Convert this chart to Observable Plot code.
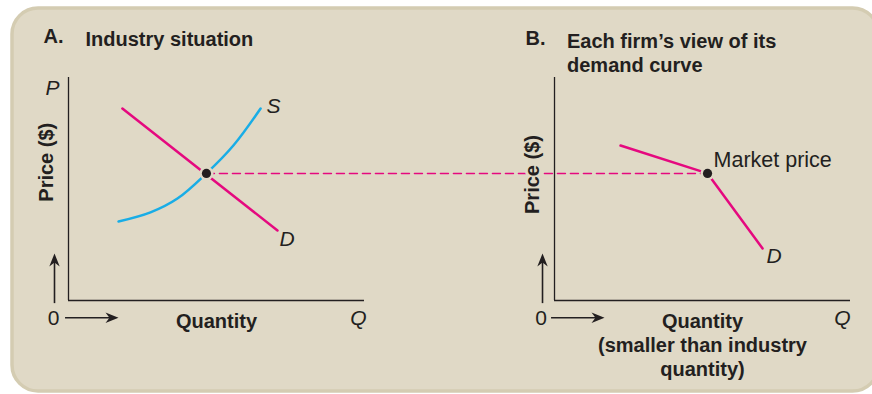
<!DOCTYPE html>
<html><head><meta charset="utf-8">
<script src="https://cdn.jsdelivr.net/npm/d3@7"></script>
<script src="https://cdn.jsdelivr.net/npm/@observablehq/plot@0.6"></script>
<style>
html,body{margin:0;padding:0;background:#fff;}
#chart svg{display:block;}
</style></head><body><div id="chart"></div>
<script>
// ---------------- data (chart units: quantity, price) ----------------
const industryDemandQ = [1.82, 7.06];
const industryDemandP = [8.61, 3.14];
const industrySupplyQ = [1.69, 2.77, 3.68, 4.66, 5.57, 6.49];
const industrySupplyP = [3.54, 3.95, 4.57, 5.70, 6.95, 8.61];
const equilibriumQ = 4.66;
const marketPrice = 5.70;
const firmDemandQ = [2.23, 5.17, 7.03];
const firmDemandP = [6.95, 5.70, 2.33];
const panelIds = ["A.", "B."];
const panelTitles = ["Industry situation", "Each firm\u2019s view of its\ndemand curve"];
const quantityLabels = ["Quantity", "Quantity\n(smaller than industry\nquantity)"];
const priceLabel = "Price ($)";
const priceAxisEnd = "P";
const quantityAxisEnd = "Q";
const originLabel = "0";
const supplyLabel = "S";
const demandLabel = "D";
const marketLabel = "Market price";

// ---------------- layout / style ----------------
const W = 872, H = 394;
const Q_MAX = 10, P_MAX = 10;
const B_OFFSET = 16.42;           // panel B origin along the shared x scale
const INK = "#231f20", PINK = "#e5097f", BLUE = "#19ade6";
const BG = "#e0d9c6", EDGE = "#d4ccb2";
const FONT = "'Liberation Sans', Arial, Helvetica, sans-serif";

const panels = [
  {origin: 0,        idDx: -25, titleDx: 17,   titleDy: -49, priceDx: -22.3, priceY: 6.2,  zeroDx: -15,   arrowDx: -14, qDx: 2},
  {origin: B_OFFSET, idDx: -29, titleDx: 12.5, titleDy: -47, priceDx: -21.7, priceY: 5.65, zeroDx: -13.5, arrowDx: -12, qDx: 0}
];

// filled barbed arrowhead, tip at the anchor point, pointing up
const arrowHead = {
  draw(ctx, size) {
    const r = Math.sqrt(size / Math.PI);
    ctx.moveTo(0, 0);
    ctx.lineTo(0.4 * r, r);
    ctx.lineTo(0, 0.7 * r);
    ctx.lineTo(-0.4 * r, r);
    ctx.closePath();
  }
};

const supply = industrySupplyQ.map((q, i) => ({q, p: industrySupplyP[i]}));
const demand = industryDemandQ.map((q, i) => ({q, p: industryDemandP[i]}));
const firm = firmDemandQ.map((q, i) => ({q: B_OFFSET + q, p: firmDemandP[i]}));
const kink = firm[1];
const eqPoints = [{q: equilibriumQ, p: marketPrice}, {q: kink.q, p: kink.p}];

const marks = [
  Plot.frame({fill: BG, stroke: EDGE, strokeWidth: 3.5, rx: 26, ry: 26,
              insetLeft: -56.5, insetTop: -69.5, insetRight: -28, insetBottom: -90.5})
];

// curves first (text drawn over them later)
marks.push(Plot.line(supply, {x: "q", y: "p", curve: "catmull-rom", stroke: BLUE, strokeWidth: 2.5}));
marks.push(Plot.line(demand, {x: "q", y: "p", stroke: PINK, strokeWidth: 2.5}));
marks.push(Plot.line(firm, {x: "q", y: "p", stroke: PINK, strokeWidth: 2.5, strokeLinejoin: "miter"}));
marks.push(Plot.line(eqPoints, {x: "q", y: "p", stroke: PINK, strokeWidth: 1.5, strokeDasharray: "8,5"}));
// equilibrium dots with background halo
marks.push(Plot.dot(eqPoints, {x: "q", y: "p", r: 7, fill: BG, stroke: "none"}));
marks.push(Plot.dot(eqPoints, {x: "q", y: "p", r: 4.6, fill: INK, stroke: "none"}));

panels.forEach((pl, i) => {
  const o = [{x: pl.origin}];
  // axes
  marks.push(Plot.ruleX(o, {x: "x", y1: 0, y2: P_MAX, stroke: INK, strokeWidth: 1.3}));
  marks.push(Plot.ruleY(o, {y: 0, x1: "x", x2: d => d.x + Q_MAX, stroke: INK, strokeWidth: 1.3}));
  // direction arrows
  marks.push(Plot.ruleX(o, {x: "x", y1: -0.14, y2: 1.75, dx: pl.arrowDx, stroke: INK, strokeWidth: 1.6}));
  marks.push(Plot.dot(o, {x: "x", y: 2.11, dx: pl.arrowDx, r: 13, symbol: arrowHead, fill: INK, stroke: "none"}));
  marks.push(Plot.ruleY(o, {y: 0, x1: d => d.x - 0.1, x2: d => d.x + 1.45, dy: 17.3, stroke: INK, strokeWidth: 1.6}));
  marks.push(Plot.dot(o, {x: d => d.x + 1.69, y: 0, dy: 17.3, r: 13, rotate: 90, symbol: arrowHead, fill: INK, stroke: "none"}));
  // panel id + title (cap tops aligned)
  marks.push(Plot.text([panelIds[i]], {x: pl.origin, y: P_MAX, text: d => d, dx: pl.idDx, dy: pl.titleDy,
    textAnchor: "start", lineAnchor: "top", fontWeight: "bold", fontSize: 20, fill: INK}));
  marks.push(Plot.text([panelTitles[i]], {x: pl.origin, y: P_MAX, text: d => d, dx: pl.titleDx, dy: pl.titleDy,
    textAnchor: "start", lineAnchor: "top", lineHeight: 1.2, fontWeight: "bold", fontSize: 20, fill: INK}));
  // price label (background halo hides the dashed line behind it)
  marks.push(Plot.text([priceLabel], {x: pl.origin, y: pl.priceY, text: d => d, dx: pl.priceDx, rotate: -90,
    textAnchor: "middle", lineAnchor: "middle", fontWeight: "bold", fontSize: 20, fill: INK,
    stroke: BG, strokeWidth: 6, paintOrder: "stroke"}));
  // zero label
  marks.push(Plot.text([originLabel], {x: pl.origin, y: 0, text: d => d, dx: pl.zeroDx, dy: 24,
    textAnchor: "middle", lineAnchor: "bottom", fontSize: 21, fill: INK}));
  // quantity label
  marks.push(Plot.text([quantityLabels[i]], {x: pl.origin + Q_MAX / 2, y: 0, text: d => d, dy: 10,
    textAnchor: "middle", lineAnchor: "top", lineHeight: 1.2, fontWeight: "bold", fontSize: 20, fill: INK}));
  // Q at axis end
  marks.push(Plot.text([quantityAxisEnd], {x: pl.origin + Q_MAX, y: 0, text: d => d, dx: pl.qDx, dy: 10,
    textAnchor: "end", lineAnchor: "top", fontStyle: "italic", fontSize: 21, fill: INK}));
});

// P at top of panel A's price axis
marks.push(Plot.text([priceAxisEnd], {x: 0, y: P_MAX, text: d => d, dx: -16, dy: 17,
  textAnchor: "middle", lineAnchor: "bottom", fontStyle: "italic", fontSize: 21, fill: INK}));

// curve labels
const lastS = supply[supply.length - 1], lastD = demand[demand.length - 1], lastF = firm[firm.length - 1];
marks.push(Plot.text([lastS], {x: "q", y: "p", text: () => supplyLabel, dx: 6, dy: 5,
  textAnchor: "start", lineAnchor: "bottom", fontStyle: "italic", fontSize: 21, fill: INK}));
marks.push(Plot.text([lastD], {x: "q", y: "p", text: () => demandLabel, dx: 2, dy: 16,
  textAnchor: "start", lineAnchor: "bottom", fontStyle: "italic", fontSize: 21, fill: INK}));
marks.push(Plot.text([lastF], {x: "q", y: "p", text: () => demandLabel, dx: 4, dy: 14,
  textAnchor: "start", lineAnchor: "bottom", fontStyle: "italic", fontSize: 21, fill: INK}));
marks.push(Plot.text([kink], {x: "q", y: "p", text: () => marketLabel, dx: 6, dy: -6,
  textAnchor: "start", lineAnchor: "bottom", fontSize: 21.5, fill: INK}));

const chart = Plot.plot({
  width: W, height: H,
  marginLeft: 68, marginRight: 22, marginTop: 77, marginBottom: 94,
  x: {domain: [0, B_OFFSET + Q_MAX], axis: null},
  y: {domain: [0, P_MAX], axis: null},
  style: {fontFamily: FONT, fontSize: "20px", background: "#fff", overflow: "hidden"},
  marks
});
document.getElementById("chart").appendChild(chart);
</script></body></html>
